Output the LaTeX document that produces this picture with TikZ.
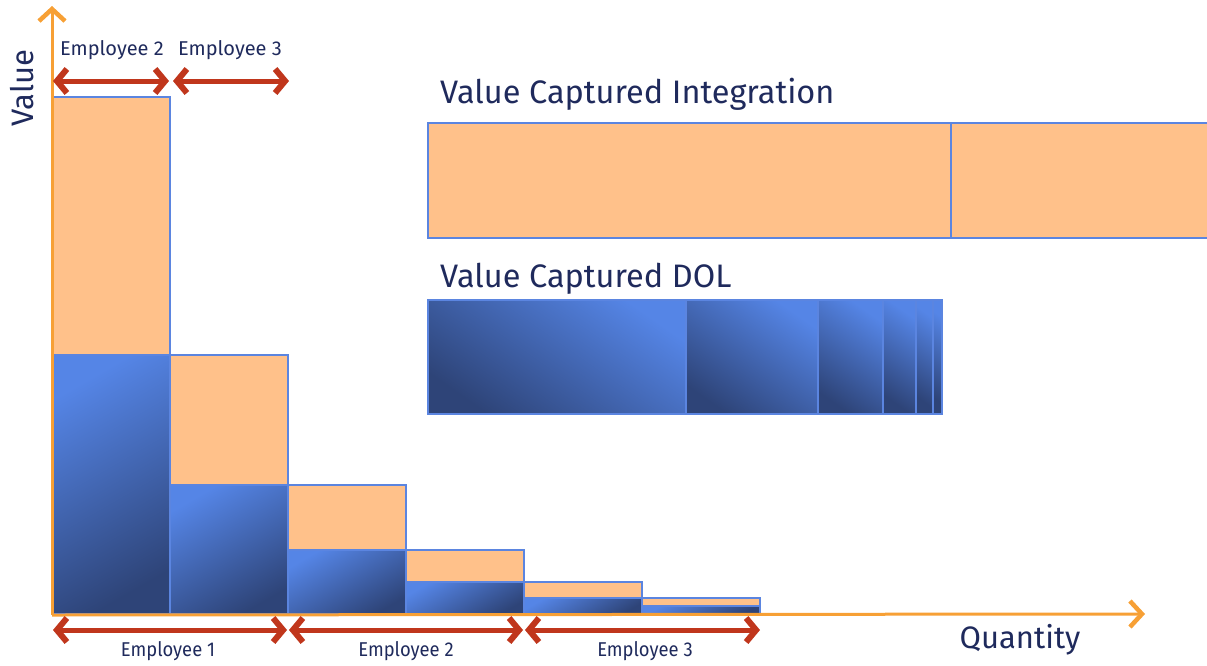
\documentclass[tikz,border=0pt]{standalone}
\usepackage{fontspec}
\setmainfont{Fira Sans}[Ligatures=NoCommon]
\usetikzlibrary{arrows.meta}
\definecolor{navy}{HTML}{1F2A5C}
\definecolor{orax}{HTML}{F7A035}
\definecolor{redarr}{HTML}{C0361C}
\definecolor{peach}{HTML}{FFC18A}
\definecolor{bedge}{HTML}{5B85E0}
\definecolor{blight}{HTML}{5585E6}
\definecolor{bdark}{HTML}{2E4478}
\tikzset{
  axis/.style={orax, line width=3pt, -{Straight Barb[length=12pt,width=26pt,line width=4.5pt]}},
  span/.style={redarr, line width=5pt, {Straight Barb[length=10pt,width=24pt,line width=6pt]}-{Straight Barb[length=10pt,width=24pt,line width=6pt]}},
  peachbox/.style={fill=peach, draw=bedge, line width=2pt},
  bluebox/.style={top color=blight, bottom color=bdark, shading angle=#1},
  bluebox/.default=20,
  edge/.style={draw=bedge, line width=2pt},
  lab/.style={navy, font=\fontsize{20}{22}\selectfont\addfontfeatures{FakeStretch=0.92}, inner sep=0pt},
  toplab/.style={navy, font=\fontsize{20}{22}\selectfont, inner sep=0pt},
  big/.style={navy, font=\fontsize{32.5}{36}\selectfont, inner sep=0pt, anchor=base west}
}
\begin{document}
\begin{tikzpicture}[x=1pt,y=-1pt]
\useasboundingbox (0,0) rectangle (1207,665);
% bars (orange tops)
\foreach \xa/\xb/\yt/\yb in {52/170/97/355, 170/288/355/485, 288/406/485/550, 406/524/550/582, 524/642/582/598, 642/760/598/606}{
  \fill[peach] (\xa,\yt) rectangle (\xb,\yb);
  \shade[bluebox=30] (\xa,\yb) rectangle (\xb,614);
  \draw[edge] (\xa,\yt) rectangle (\xb,614);
  \draw[edge] (\xa,\yb) -- (\xb,\yb);
}
% axes
\coordinate (o) at (52,615);
\coordinate (ytip) at (52,6);
\coordinate (xtip) at (1145,614);
\draw[axis] (o) -- (ytip);
\draw[axis] (o) -- (xtip);
% axis labels
\node[navy, font=\fontsize{31}{34}\selectfont, rotate=90, inner sep=0pt] (vlab) at (22,88) {Value};
\node[navy, font=\fontsize{31}{34}\selectfont, inner sep=0pt] (qlab) at (1020,640) {Quantity};
% top spans
\coordinate (t0) at (53,81); \coordinate (t1) at (169,81);
\coordinate (t2) at (173,81); \coordinate (t3) at (289,81);
\draw[span] (t0) -- (t1);
\draw[span] (t2) -- (t3);
\node[toplab] (e2t) at (112,50) {Employee 2};
\node[toplab] (e3t) at (230,50) {Employee 3};
% bottom spans
\coordinate (b0) at (53,630); \coordinate (b1) at (287,630);
\coordinate (b2) at (289,630); \coordinate (b3) at (523,630);
\coordinate (b4) at (525,630); \coordinate (b5) at (760,630);
\draw[span] (b0) -- (b1);
\draw[span] (b2) -- (b3);
\draw[span] (b4) -- (b5);
\node[lab] (e1b) at (168,651) {Employee 1};
\node[lab] (e2b) at (406,651) {Employee 2};
\node[lab] (e3b) at (645,651) {Employee 3};
% integration bar
\node[big] (tint) at (440,103) {Value Captured Integration};
\draw[peachbox] (428,123) rectangle (1212,238);
\draw[edge] (951,123) -- (951,238);
% DOL bar
\node[big] (tdol) at (440,287) {Value Captured DOL};
\foreach \xa/\xb in {428/686, 686/818, 818/883, 883/916, 916/933, 933/942}{
  \shade[bluebox=-35] (\xa,300) rectangle (\xb,414);
  \draw[draw=bedge, line width=1.5pt] (\xa,300) rectangle (\xb,414);
}
\end{tikzpicture}
\end{document}
